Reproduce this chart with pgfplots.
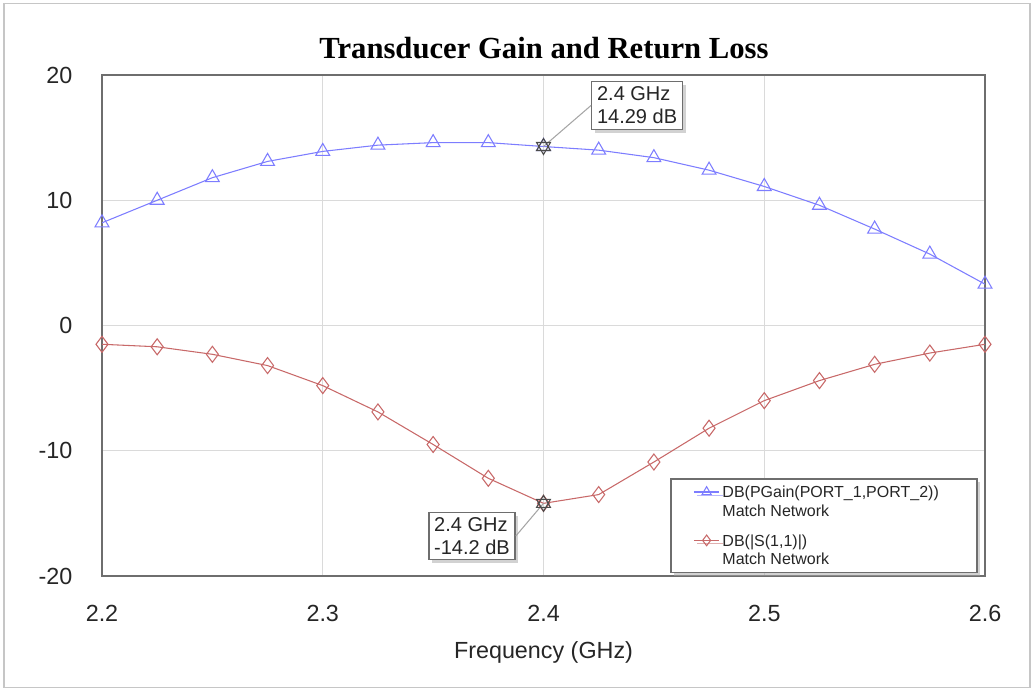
\documentclass[border=0pt]{standalone}
\usepackage{fontspec}
\setmainfont{Liberation Sans}
\newfontfamily\titlefont{Liberation Serif}
\usepackage{pgfplots}
\pgfplotsset{compat=1.18}
\usetikzlibrary{shadows}
\definecolor{gainblue}{RGB}{125,125,255}
\definecolor{rlred}{RGB}{200,105,105}
\definecolor{gridgray}{RGB}{218,218,218}
\definecolor{framegray}{RGB}{110,110,110}

\begin{document}
\begin{tikzpicture}[x=1pt,y=1pt]
\useasboundingbox (0,0) rectangle (775.5,518.25);
\draw[gray!45, line width=1pt] (3,2.5) rectangle (772.5,515.75);
\node[font=\titlefont\bfseries\fontsize{23}{27}\selectfont] at (408,482.25) {Transducer Gain and Return Loss};
\begin{axis}[
  at={(76.5pt,86.25pt)}, anchor=south west,
  scale only axis, width=662.25pt, height=375.75pt,
  xmin=2.2, xmax=2.6, ymin=-20, ymax=20,
  xtick={2.2,2.3,2.4,2.5,2.6}, xticklabels={2.2,2.3,2.4,2.5,2.6},
  ytick={-20,-10,0,10,20}, yticklabels={-20,-10,0,10,20},
  grid=major, grid style={gridgray, line width=0.8pt},
  axis line style={framegray, line width=1pt},
  major tick length=0pt,
  tick label style={font=\fontsize{17.5}{20}\selectfont, text=black!85},
  xticklabel style={anchor=north, inner sep=0pt, yshift=-21.75pt},
  yticklabel style={anchor=east, inner sep=0pt, xshift=-22pt},
  xlabel={Frequency (GHz)},
  xlabel style={at={(axis description cs:0.5,0)}, anchor=center, yshift=-57pt, font=\fontsize{17.5}{20}\selectfont, text=black!85},
  legend cell align=left,
  legend style={at={(0.992,0.1956)}, anchor=north east, draw=framegray, line width=1.2pt, fill=white,
    drop shadow={shadow xshift=2.5pt, shadow yshift=-2.5pt, fill=gray!70},
    font=\fontsize{12}{14}\selectfont, text=black!85, inner xsep=17pt, inner ysep=3.5pt, row sep=9.5pt,
    nodes={text depth=}},
  legend image code/.code={\draw[#1, line width=0.8pt] (0pt,7pt) -- (19pt,7pt); \draw[#1, line width=0.8pt, mark size=4pt] plot coordinates {(9.5pt,7pt)};},
]
\addplot[gainblue, line width=0.8pt, mark=triangle, mark size=6pt, mark options={solid}] coordinates {
(2.200,8.2) (2.225,10.0) (2.250,11.8) (2.275,13.1) (2.300,13.9) (2.325,14.4) (2.350,14.6) (2.375,14.6)
(2.400,14.29) (2.425,14.0) (2.450,13.4) (2.475,12.4) (2.500,11.1) (2.525,9.6) (2.550,7.7) (2.575,5.7) (2.600,3.3)};
\addlegendentry{\parbox[b]{172pt}{DB(PGain(PORT\_1,PORT\_2))\\Match Network}}
\addplot[rlred, line width=0.8pt, mark=diamond, mark size=6pt, mark options={solid}] coordinates {
(2.200,-1.5) (2.225,-1.7) (2.250,-2.3) (2.275,-3.2) (2.300,-4.8) (2.325,-6.9) (2.350,-9.5) (2.375,-12.2)
(2.400,-14.2) (2.425,-13.5) (2.450,-10.9) (2.475,-8.2) (2.500,-6.0) (2.525,-4.4) (2.550,-3.1) (2.575,-2.2) (2.600,-1.5)};
\addlegendentry{\parbox[b]{172pt}{DB(|S(1,1)|)\\Match Network}}
\addplot[only marks, black!70, mark=triangle, mark size=6pt, line width=0.8pt, forget plot] coordinates {(2.4,14.29) (2.4,-14.2)};
\addplot[only marks, black!70, mark=triangle, mark size=6pt, line width=0.8pt, mark options={rotate=180}, forget plot] coordinates {(2.4,14.29) (2.4,-14.2)};
\node[draw=framegray, line width=1pt, fill=white, drop shadow={shadow xshift=2.5pt, shadow yshift=-2.5pt, fill=gray!70},
  align=left, font=\fontsize{15}{17}\selectfont, text=black!85, inner sep=4pt] (a1) at (axis cs:2.4424,17.57) {2.4 GHz\\14.29 dB};
\node[draw=framegray, line width=1pt, fill=white, drop shadow={shadow xshift=2.5pt, shadow yshift=-2.5pt, fill=gray!70},
  align=left, font=\fontsize{15}{17}\selectfont, text=black!85, inner sep=4pt] (a2) at (axis cs:2.3676,-16.81) {2.4 GHz\\-14.2 dB};
\draw[gray!70, line width=0.8pt] (axis cs:2.4,14.29) -- (a1.west);
\draw[gray!70, line width=0.8pt] (axis cs:2.4,-14.2) -- (a2.east);
\end{axis}
\end{tikzpicture}
\end{document}
